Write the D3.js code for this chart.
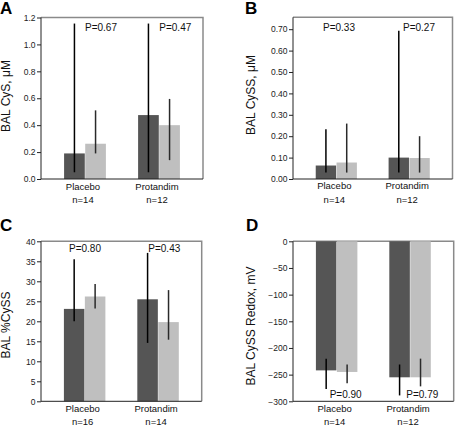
<!DOCTYPE html>
<html><head><meta charset="utf-8">
<script src="https://cdn.jsdelivr.net/npm/d3@7"></script>
<style>
body{margin:0;background:#fff;}
svg{display:block;font-family:"Liberation Sans",Arial,sans-serif;}
</style></head>
<body>
<svg id="c" width="467" height="426"></svg>
<script>
// ---- data ----
const groups = ["Placebo", "Protandim"];

const aDark = [0.19, 0.475], aLight = [0.262, 0.40];
const aDarkLo = [0.05, 0.05], aDarkHi = [1.155, 1.155];
const aLightLo = [0.19, 0.14], aLightHi = [0.51, 0.595];
const aN = ["n=14", "n=12"], aP = ["P=0.67", "P=0.47"];
const aTicks = [0, 0.2, 0.4, 0.6, 0.8, 1.0, 1.2];

const bDark = [0.063, 0.10], bLight = [0.077, 0.098];
const bDarkLo = [0.03, 0.03], bDarkHi = [0.233, 0.693];
const bLightLo = [0.03, 0.03], bLightHi = [0.259, 0.20];
const bN = ["n=14", "n=12"], bP = ["P=0.33", "P=0.27"];
const bTicks = [0, 0.1, 0.2, 0.3, 0.4, 0.5, 0.6, 0.7];

const cDark = [23.1, 25.5], cLight = [26.2, 19.8];
const cDarkLo = [20.0, 14.6], cDarkHi = [35.5, 37.1];
const cLightLo = [23.2, 15.4], cLightHi = [29.3, 27.8];
const cN = ["n=16", "n=14"], cP = ["P=0.80", "P=0.43"];
const cTicks = [0, 5, 10, 15, 20, 25, 30, 35, 40];

const dDark = [-242, -255], dLight = [-245, -255];
const dDarkLo = [-277, -289], dDarkHi = [-220, -231];
const dLightLo = [-266, -272], dLightHi = [-231, -220];
const dN = ["n=14", "n=12"], dP = ["P=0.90", "P=0.79"];
const dTicks = [-300, -250, -200, -150, -100, -50, 0];

// ---- layout ----
const panels = [
  {letter:"A", ylab:"BAL CyS, \u03bcM", dark:aDark, light:aLight, dLo:aDarkLo, dHi:aDarkHi, lLo:aLightLo, lHi:aLightHi,
   n:aN, p:aP, ticks:aTicks, domain:[0,1.2], fmt:d3.format(".1f"),
   L:{x:41, y:17.5, w:162, h:161.5, lx:0, ly:14, yx:10, yy:96, px:[44,118.3], py:31}},
  {letter:"B", ylab:"BAL CySS, \u03bcM", dark:bDark, light:bLight, dLo:bDarkLo, dHi:bDarkHi, lLo:bLightLo, lHi:bLightHi,
   n:bN, p:bP, ticks:bTicks, domain:[0,0.7556], fmt:d3.format(".2f"),
   L:{x:293, y:17.3, w:159.5, h:161.7, lx:245, ly:14, yx:255, yy:95, px:[30,110], py:30.7}},
  {letter:"C", ylab:"BAL %CySS", dark:cDark, light:cLight, dLo:cDarkLo, dHi:cDarkHi, lLo:cLightLo, lHi:cLightHi,
   n:cN, p:cP, ticks:cTicks, domain:[0,40], fmt:d3.format("d"),
   L:{x:41, y:241.3, w:160.7, h:160, lx:0, ly:231, yx:10, yy:325, px:[28,107.3], py:252}},
  {letter:"D", ylab:"BAL CySS Redox, mV", dark:dDark, light:dLight, dLo:dDarkLo, dHi:dDarkHi, lLo:dLightLo, lHi:dLightHi,
   n:dN, p:dP, ticks:dTicks, domain:[-300,0], fmt:d3.format("d"),
   L:{x:293, y:241.3, w:160.7, h:160, lx:246, ly:231, yx:255, yy:326, px:[36.7,113.3], py:398}}
];

const svg = d3.select("#c");
const DARK = "#555555", LIGHT = "#bfbfbf";

panels.forEach(P => {
  const L = P.L;
  const g = svg.append("g").attr("transform", `translate(${L.x},${L.y})`);
  const x0 = d3.scaleBand().domain(groups).range([0, L.w]).paddingInner(0.435).paddingOuter(0.312);
  const x1 = d3.scaleBand().domain(["dark","light"]).range([0, x0.bandwidth()]).paddingInner(0.02);
  const y = d3.scaleLinear().domain(P.domain).range([L.h, 0]);
  const base = y(Math.max(P.domain[0], Math.min(0, P.domain[1])));

  // frame top/right
  g.append("path").attr("d", `M0,0H${L.w}V${L.h}`).attr("fill","none").attr("stroke","#8a8a8a").attr("stroke-width",1.5);

  // bars
  const rows = [];
  groups.forEach((gr, i) => {
    rows.push({g:gr, s:"dark", v:P.dark[i], lo:P.dLo[i], hi:P.dHi[i]});
    rows.push({g:gr, s:"light", v:P.light[i], lo:P.lLo[i], hi:P.lHi[i]});
  });
  g.selectAll("rect.bar").data(rows).enter().append("rect")
    .attr("x", d => x0(d.g) + x1(d.s))
    .attr("width", x1.bandwidth())
    .attr("y", d => Math.min(y(d.v), base))
    .attr("height", d => Math.abs(y(d.v) - base))
    .attr("fill", d => d.s === "dark" ? DARK : LIGHT);

  // error bars
  g.selectAll("line.err").data(rows).enter().append("line")
    .attr("x1", d => x0(d.g) + x1(d.s) + x1.bandwidth()/2)
    .attr("x2", d => x0(d.g) + x1(d.s) + x1.bandwidth()/2)
    .attr("y1", d => y(d.lo)).attr("y2", d => y(d.hi))
    .attr("stroke", d => d.s === "dark" ? "#000" : "#2a2a2a").attr("stroke-width", 1.5);

  // y axis
  const ax = g.append("g").call(d3.axisLeft(y).tickValues(P.ticks).tickFormat(P.fmt).tickSize(4).tickPadding(1.5));
  ax.select(".domain").attr("stroke","#222").attr("d", `M0,0V${L.h}`);
  ax.selectAll(".tick line").attr("stroke","#222");
  ax.selectAll(".tick text").attr("font-size","8.5px").attr("fill","#222").attr("font-family","Liberation Sans, Arial, sans-serif");

  // x axis line
  g.append("line").attr("x1",0).attr("x2",L.w).attr("y1",L.h).attr("y2",L.h).attr("stroke","#222").attr("stroke-width",1);

  // category & n labels
  groups.forEach((gr, i) => {
    const cx = x0(gr) + x0.bandwidth()/2 - 2;
    g.append("text").attr("x", cx).attr("y", L.h + 10.5).attr("text-anchor","middle")
      .attr("font-size","9.5px").attr("fill","#111").text(gr);
    g.append("text").attr("x", cx).attr("y", L.h + 24).attr("text-anchor","middle")
      .attr("font-size","9.5px").attr("fill","#111").text(P.n[i]);
    g.append("text").attr("x", L.px[i]).attr("y", L.py - L.y).attr("font-size","10px").attr("fill","#111").text(P.p[i]);
  });

  // y label
  svg.append("text").attr("transform", `translate(${L.yx},${L.yy}) rotate(-90)`).attr("text-anchor","middle")
    .attr("font-size","12px").attr("fill","#111").text(P.ylab);
  // panel letter
  svg.append("text").attr("x", L.lx).attr("y", L.ly).attr("font-size","17px").attr("font-weight","bold").attr("fill","#000").text(P.letter);
});
</script>
</body></html>
